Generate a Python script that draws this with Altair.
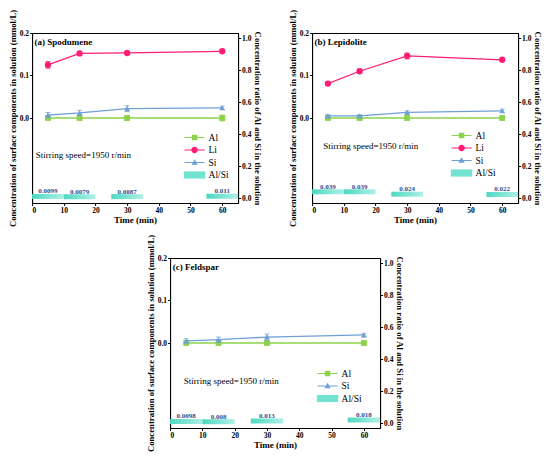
import altair as alt
import pandas as pd

# ---------------- data ----------------
times = [5, 15, 30, 60]

# (a) Spodumene
spod_al = [0.0, 0.0, 0.0, 0.0]
spod_al_err = [0.003, 0.003, 0.006, 0.007]
spod_li = [0.125, 0.152, 0.153, 0.157]
spod_li_err = [0.008, 0.003, 0.003, 0.002]
spod_si = [0.007, 0.012, 0.022, 0.024]
spod_si_err = [0.006, 0.006, 0.007, 0.004]
spod_ratio = [0.0099, 0.0079, 0.0087, 0.011]

# (b) Lepidolite
lepi_al = [0.0, 0.0, 0.0, 0.0]
lepi_al_err = [0.002, 0.002, 0.002, 0.002]
lepi_li = [0.081, 0.110, 0.146, 0.137]
lepi_li_err = [0.004, 0.005, 0.007, 0.003]
lepi_si = [0.005, 0.005, 0.013, 0.017]
lepi_si_err = [0.003, 0.003, 0.004, 0.004]
lepi_ratio = [0.039, 0.039, 0.024, 0.022]

# (c) Feldspar
feld_al = [0.0, 0.0, 0.0, 0.0]
feld_al_err = [0.004, 0.002, 0.002, 0.002]
feld_si = [0.005, 0.008, 0.014, 0.019]
feld_si_err = [0.005, 0.006, 0.007, 0.004]
feld_ratio = [0.0098, 0.008, 0.013, 0.018]

# ---------------- styles ----------------
FONT = "Liberation Serif"
COLORS = {"Al": "#8CD24A", "Li": "#FF1C74", "Si": "#6E9FD5", "Al/Si": "#72E3D0"}
DATA_SHAPES = {"Al": "square", "Li": "circle", "Si": "triangle-up"}
DATA_SIZES = {"Al": 34, "Li": 40, "Si": 34}
LINE_SEG = "M-1.55,-0.09H1.55V0.09H-1.55Z "
LEG_SHAPES = {
    "Al": LINE_SEG + "M-0.42,-0.42H0.42V0.42H-0.42Z",
    "Li": LINE_SEG + "M0.5,0A0.5,0.5 0 1,1 -0.5,0A0.5,0.5 0 1,1 0.5,0Z",
    "Si": LINE_SEG + "M0,-0.5L0.47,0.35H-0.47Z",
    "Al/Si": "M-1.65,-0.55H1.65V0.55H-1.65Z",
}
BAR_FILL = alt.LinearGradient(
    gradient="linear",
    stops=[alt.GradientStop(offset=0, color="#4ED8C2"),
           alt.GradientStop(offset=1, color="#AEF0E5")],
    x1=0, x2=1, y1=0, y2=0,
)
LABEL_BLUE = "#2E4D8F"

LEFT_TITLE = "Concentration of surface components in solution (mmol/L)"
RIGHT_TITLE = "Concentration ratio of Al and Si in the solution"


def panel(label, series, ratio, width, height, stir_pos, leg_pos):
    rows = []
    for name, (vals, errs) in series.items():
        for t, v, e in zip(times, vals, errs):
            rows.append({"t": t, "series": name, "value": v, "err": e})
    df = pd.DataFrame(rows)
    names = list(series.keys())
    dom = names + ["Al/Si"]
    cscale = alt.Scale(domain=dom, range=[COLORS[n] for n in dom])
    sscale = alt.Scale(domain=dom, range=[LEG_SHAPES[n] for n in dom])

    xscale = alt.Scale(domain=[0, 65], nice=False)
    xaxis = alt.Axis(values=list(range(0, 61, 10)), title="Time (min)")
    yscale = alt.Scale(domain=[-0.2, 0.2], nice=False)
    yaxis = alt.Axis(values=[0, 0.1, 0.2], format=".1f", title=LEFT_TITLE)

    x = alt.X("t:Q", scale=xscale, axis=xaxis)
    y = alt.Y("value:Q", scale=yscale, axis=yaxis)

    leg = alt.Legend(orient="none", legendX=leg_pos[0], legendY=leg_pos[1],
                     title=None, symbolSize=169, labelFont=FONT,
                     labelFontSize=9.5, labelFontWeight="normal",
                     labelColor="black", labelOffset=6.5, rowPadding=0.5,
                     padding=0)
    legend_layer = alt.Chart(pd.DataFrame({"series": dom})).transform_filter(
        "false").mark_point(filled=True, opacity=1).encode(
        x=alt.value(0), y=alt.value(0),
        color=alt.Color("series:N", scale=cscale, legend=leg),
        shape=alt.Shape("series:N", scale=sscale, legend=leg))

    base = alt.Chart(df)
    marks = [legend_layer]
    for n in names:
        sub = base.transform_filter(alt.datum.series == n)
        marks.append(sub.mark_line(strokeWidth=1.3, color=COLORS[n]).encode(x=x, y=y))
        marks.append(sub.mark_errorbar(ticks=True, thickness=1, color=COLORS[n]).encode(
            x=x, y=y, yError="err:Q"))
        marks.append(sub.mark_point(shape=DATA_SHAPES[n], filled=True, opacity=1,
                                    size=DATA_SIZES[n], color=COLORS[n]).encode(x=x, y=y))

    ann = pd.DataFrame({
        "t": [0.8, stir_pos[0]],
        "value": [0.178, stir_pos[1]],
        "txt": [label, "Stirring speed=1950 r/min"],
        "w": ["bold", "normal"],
    })
    lab = alt.Chart(ann).transform_filter(alt.datum.w == "bold").mark_text(
        align="left", baseline="middle", fontSize=9, fontWeight="bold",
        font=FONT, color="black").encode(x=x, y=y, text="txt:N")
    stir = alt.Chart(ann).transform_filter(alt.datum.w == "normal").mark_text(
        align="left", baseline="middle", fontSize=9, font=FONT,
        color="black").encode(x=x, y=y, text="txt:N")
    marks += [lab, stir]

    left = alt.layer(*marks)

    rdf = pd.DataFrame({"t": times, "ratio": ratio,
                        "lab": [str(v) for v in ratio]})
    yr = alt.Y("ratio:Q", scale=alt.Scale(domain=[0, 1], nice=False),
               axis=alt.Axis(orient="right", values=[0, 0.2, 0.4, 0.6, 0.8, 1.0],
                             format=".1f", title=RIGHT_TITLE))
    rbase = alt.Chart(rdf)
    bars = rbase.transform_calculate(t0="datum.t - 5", t1="datum.t + 5").mark_bar(
        color=BAR_FILL).encode(
        x=alt.X("t0:Q", scale=xscale, axis=xaxis), x2="t1:Q", y=yr)
    btxt = rbase.mark_text(dy=-5, fontSize=7, fontWeight="bold", font=FONT,
                           color=LABEL_BLUE).encode(
        x=alt.X("t:Q", scale=xscale, axis=xaxis), y=yr, text="lab:N")
    right = alt.layer(bars, btxt)

    return alt.layer(left, right).resolve_scale(y="independent").properties(
        width=width, height=height)


pa = panel("(a) Spodumene",
           {"Al": (spod_al, spod_al_err), "Li": (spod_li, spod_li_err),
            "Si": (spod_si, spod_si_err)},
           spod_ratio, 206, 170, (1.2, -0.086), (155, 97))
pb = panel("(b) Lepidolite",
           {"Al": (lepi_al, lepi_al_err), "Li": (lepi_li, lepi_li_err),
            "Si": (lepi_si, lepi_si_err)},
           lepi_ratio, 206, 170, (3.5, -0.065), (142, 95))
pc = panel("(c) Feldspar",
           {"Al": (feld_al, feld_al_err), "Si": (feld_si, feld_si_err)},
           feld_ratio, 210, 170, (4.2, -0.09), (150, 108))

res = dict(x="independent", y="independent", color="independent",
           shape="independent")
top = alt.hconcat(pa, pb, spacing=26).resolve_scale(**res)
chart = alt.vconcat(top, pc, spacing=5, center=True).resolve_scale(
    **res).properties(
    padding=0
).configure(font=FONT).configure_axis(
    labelFont=FONT, labelFontWeight="bold", labelFontSize=7.5, labelColor="black",
    titleFont=FONT, titleFontWeight="bold", titleFontSize=8.7, titleColor="black",
    grid=False, domainColor="black", tickColor="black", tickSize=2.5,
    titlePadding=1.5, labelPadding=1,
).configure_axisX(titleFontSize=9).configure_view(stroke="black", strokeWidth=1)

chart.save("out.html", embed_options={"renderer": "svg", "actions": False})
